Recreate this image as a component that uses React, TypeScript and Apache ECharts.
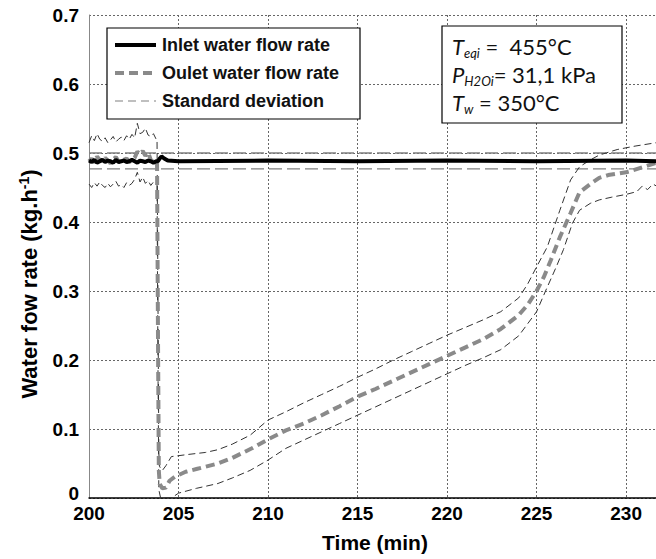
import React, { useEffect, useRef } from "react";
import * as echarts from "echarts";

// ---------- data ----------
const preTimes = [
  200.0, 200.15, 200.3, 200.45, 200.6, 200.75, 200.9, 201.05, 201.2, 201.35, 201.5, 201.65, 201.8,
  201.95, 202.1, 202.25, 202.4, 202.55, 202.7, 202.85, 203.0, 203.15, 203.3, 203.45, 203.6, 203.75,
];

const inletPre = [
  0.489, 0.487, 0.49, 0.486, 0.488, 0.49, 0.487, 0.489, 0.488, 0.486, 0.49, 0.487, 0.488, 0.489,
  0.487, 0.488, 0.49, 0.488, 0.486, 0.489, 0.488, 0.487, 0.489, 0.488, 0.486, 0.488,
];
const inletPostTimes = [203.85, 203.95, 204.05, 204.2, 204.4, 205, 210, 215, 220, 225, 230, 231.7];
const inletPost = [0.488, 0.492, 0.495, 0.492, 0.489, 0.488, 0.489, 0.488, 0.489, 0.488, 0.489, 0.488];

const outletPre = [
  0.488, 0.492, 0.486, 0.495, 0.49, 0.487, 0.493, 0.489, 0.485, 0.491, 0.494, 0.488, 0.486, 0.49,
  0.492, 0.487, 0.489, 0.493, 0.502, 0.498, 0.503, 0.496, 0.501, 0.49, 0.487, 0.489,
];
const outletPostTimes = [
  203.8, 203.85, 203.9, 203.95, 204.1, 204.3, 204.5, 204.8, 205.4, 206, 207.2, 208, 209.1, 210, 211,
  212, 213, 214, 215, 216, 217, 218, 219, 220, 221, 222, 223, 224, 224.5, 225, 225.4, 225.8, 226.3,
  226.9, 227.4, 228, 228.5, 229, 230, 231, 231.7,
];
const outletPost = [
  0.489, 0.25, 0.04, 0.02, 0.014, 0.015, 0.025, 0.031, 0.038, 0.042, 0.05, 0.058, 0.072, 0.085,
  0.098, 0.108, 0.12, 0.133, 0.147, 0.158, 0.17, 0.182, 0.194, 0.206, 0.218, 0.23, 0.245, 0.265,
  0.28, 0.3, 0.32, 0.345, 0.378, 0.413, 0.443, 0.455, 0.464, 0.468, 0.472, 0.48, 0.486,
];

const upperPre = [
  0.515, 0.525, 0.518, 0.528, 0.52, 0.517, 0.522, 0.515, 0.519, 0.524, 0.516, 0.52, 0.523, 0.518,
  0.525, 0.52, 0.527, 0.522, 0.543, 0.528, 0.53, 0.536, 0.526, 0.524, 0.528, 0.52,
];
const upperPostTimes = [
  203.8, 203.85, 203.9, 203.95, 204.1, 204.3, 204.6, 205.5, 206.5, 207.2, 208, 209, 210, 211, 212,
  213, 214, 215, 216, 217, 218, 219, 220, 221, 222, 223, 224, 224.5, 225, 225.6, 226.3, 226.9, 227.4,
  228, 228.5, 229.5, 230.5, 231.7,
];
const upperPost = [
  0.52, 0.3, 0.065, 0.045, 0.04, 0.047, 0.06, 0.063, 0.066, 0.07, 0.078, 0.091, 0.113, 0.125, 0.138,
  0.15, 0.162, 0.175, 0.187, 0.2, 0.212, 0.224, 0.236, 0.247, 0.258, 0.27, 0.29, 0.31, 0.335, 0.364,
  0.417, 0.461, 0.48, 0.49, 0.497, 0.505, 0.51, 0.515,
];

const lowerPre = [
  0.455, 0.45, 0.457, 0.452, 0.458, 0.453, 0.45, 0.456, 0.451, 0.455, 0.459, 0.452, 0.454, 0.45,
  0.457, 0.453, 0.456, 0.462, 0.472, 0.458, 0.465, 0.456, 0.46, 0.453, 0.458, 0.455,
];
const lowerPostTimes = [
  203.8, 203.85, 203.9, 204.0, 204.6, 205, 206, 207.2, 208, 209, 210, 211, 212, 213, 214, 215, 216,
  217, 218, 219, 220, 221, 222, 223, 224, 225, 225.5, 226.1, 226.5, 227, 227.4, 228, 228.5, 229.2,
  230, 230.6, 230.9, 231.2, 231.5, 231.7,
];
const lowerPost = [
  0.455, 0.2, 0.012, 0, 0, 0.007, 0.014, 0.021, 0.029, 0.04, 0.055, 0.072, 0.084, 0.096, 0.108, 0.12,
  0.132, 0.144, 0.156, 0.168, 0.18, 0.192, 0.203, 0.215, 0.235, 0.27, 0.3, 0.335, 0.36, 0.398, 0.417,
  0.427, 0.432, 0.436, 0.44, 0.444, 0.452, 0.447, 0.455, 0.452,
];

const inletStdTimes = [200, 231.7];
const inletStdUpper = [0.5, 0.5];
const inletStdLower = [0.477, 0.477];

const xTicks = [200, 205, 210, 215, 220, 225, 230];
const yTicks = [0, 0.1, 0.2, 0.3, 0.4, 0.5, 0.6, 0.7];

const legendNames = ["Inlet water flow rate", "Oulet water flow rate", "Standard deviation"];

const pairs = (t: number[], v: number[]) => t.map((x, i) => [x, v[i]]);

const FONT = "'Liberation Sans', Arial, sans-serif";

export default function App() {
  const ref = useRef<HTMLDivElement>(null);
  useEffect(() => {
    if (!ref.current) return;
    const chart = echarts.init(ref.current, undefined, { renderer: "svg" });
    const sdThin = { color: "#333", width: 1, type: [7, 4] as any };
    const inletStyle = { color: "#000", width: 4 };
    const outletStyle = { color: "#8a8a8a", width: 4, type: [9, 5] as any };
    const inletStdStyle = { color: "#808080", width: 1.3, type: [13, 5] as any };
    const annoRich = {
      it: { fontFamily: "Lato", fontSize: 22, fontStyle: "italic", lineHeight: 26, fill: "#111" },
      sub: {
        fontFamily: "Lato",
        fontSize: 13,
        fontStyle: "italic",
        lineHeight: 13,
        verticalAlign: "bottom",
        fill: "#111",
      },
      n: { fontFamily: "Lato", fontSize: 22, lineHeight: 26, fill: "#111" },
    };
    const legendRows = [45, 73, 101];
    const legendLineStyles = [
      { stroke: "#000", lineWidth: 4 },
      { stroke: "#8a8a8a", lineWidth: 4, lineDash: [9, 5] },
      { stroke: "#808080", lineWidth: 1.2, lineDash: [8, 5] },
    ];
    const legendGraphics: any[] = [];
    legendNames.forEach((name, i) => {
      legendGraphics.push({
        type: "line",
        z: 6,
        shape: { x1: 115, y1: legendRows[i], x2: 156, y2: legendRows[i] },
        style: legendLineStyles[i],
      });
      legendGraphics.push({
        type: "text",
        z: 6,
        x: 162,
        y: legendRows[i],
        style: {
          text: name,
          verticalAlign: "middle",
          fontFamily: FONT,
          fontSize: 18,
          fontWeight: "bold",
          fill: "#111",
        },
      });
    });
    chart.setOption({
      animation: false,
      grid: { left: 89, top: 15, right: 0, bottom: 61 },
      xAxis: {
        type: "value",
        min: 200,
        max: 231.67,
        interval: 5,
        axisLine: { show: true, lineStyle: { color: "#000", width: 1.5 } },
        axisTick: { show: false },
        axisLabel: {
          showMaxLabel: false,
          margin: 6,
          color: "#000",
          fontSize: 19,
          fontWeight: "bold",
          fontFamily: FONT,
          formatter: (v: number) => (xTicks.includes(Math.round(v * 100) / 100) ? String(v) : ""),
        },
        splitLine: { show: true, lineStyle: { color: "#666", width: 1, type: [2, 2] } },
      },
      yAxis: {
        type: "value",
        min: 0,
        max: 0.7,
        interval: 0.1,
        axisLine: { show: true, lineStyle: { color: "#888", width: 1 } },
        axisTick: { show: false },
        axisLabel: {
          margin: 10,
          color: "#000",
          fontSize: 19,
          fontWeight: "bold",
          fontFamily: FONT,
          formatter: (v: number) => {
            const r = Math.round(v * 10) / 10;
            if (!yTicks.includes(r)) return "";
            return r === 0 ? "{z|0}" : r.toFixed(1);
          },
          rich: {
            z: {
              color: "#000",
              fontSize: 19,
              fontWeight: "bold",
              fontFamily: FONT,
              padding: [0, 0, 10, 0],
            },
          },
        },
        splitLine: { show: true, lineStyle: { color: "#666", width: 1, type: [2, 2] } },
      },
      graphic: [
        {
          type: "rect",
          z: 5,
          shape: { x: 107, y: 28, width: 253, height: 91 },
          style: { fill: "#fff", stroke: "#000", lineWidth: 1.2 },
        },
        ...legendGraphics,
        {
          type: "rect",
          z: 5,
          shape: { x: 442, y: 26, width: 180, height: 97 },
          style: { fill: "#fff", stroke: "#000", lineWidth: 1.2 },
        },
        {
          type: "text",
          z: 6,
          x: 452,
          y: 46,
          style: { text: "{it|T}{sub|eqi}{n| =  455°C}", rich: annoRich, verticalAlign: "middle" },
        },
        {
          type: "text",
          z: 6,
          x: 452,
          y: 74,
          style: { text: "{it|P}{sub|H2Oi}{n|= 31,1 kPa}", rich: annoRich, verticalAlign: "middle" },
        },
        {
          type: "text",
          z: 6,
          x: 452,
          y: 102,
          style: { text: "{it|T}{sub|w}{n| = 350°C}", rich: annoRich, verticalAlign: "middle" },
        },
        {
          type: "text",
          z: 6,
          x: 29,
          y: 284,
          rotation: Math.PI / 2,
          style: {
            text: "{a|Water fow rate (kg.h}{s|-1}{a|)}",
            align: "center",
            verticalAlign: "middle",
            rich: {
              a: { fontFamily: FONT, fontSize: 22, fontWeight: "bold", fill: "#000", lineHeight: 24 },
              s: {
                fontFamily: FONT,
                fontSize: 14,
                fontWeight: "bold",
                fill: "#000",
                lineHeight: 14,
                verticalAlign: "top",
              },
            },
          },
        },
        {
          type: "text",
          z: 6,
          x: 375,
          y: 542,
          style: {
            text: "Time (min)",
            align: "center",
            verticalAlign: "middle",
            fontFamily: FONT,
            fontSize: 21,
            fontWeight: "bold",
            fill: "#000",
          },
        },
      ],
      series: [
        {
          name: "sd-inlet-up",
          type: "line",
          symbol: "none",
          data: pairs(inletStdTimes, inletStdUpper),
          lineStyle: inletStdStyle,
          z: 2,
        },
        {
          name: "sd-inlet-low",
          type: "line",
          symbol: "none",
          data: pairs(inletStdTimes, inletStdLower),
          lineStyle: inletStdStyle,
          z: 2,
        },
        {
          name: "sd-out-up",
          type: "line",
          symbol: "none",
          data: pairs(preTimes.concat(upperPostTimes), upperPre.concat(upperPost)),
          lineStyle: sdThin,
          z: 2,
        },
        {
          name: "sd-out-low",
          type: "line",
          symbol: "none",
          data: pairs(preTimes.concat(lowerPostTimes), lowerPre.concat(lowerPost)),
          lineStyle: sdThin,
          z: 2,
        },
        {
          name: legendNames[1],
          type: "line",
          symbol: "none",
          data: pairs(preTimes.concat(outletPostTimes), outletPre.concat(outletPost)),
          lineStyle: outletStyle,
          z: 3,
        },
        {
          name: legendNames[0],
          type: "line",
          symbol: "none",
          data: pairs(preTimes.concat(inletPostTimes), inletPre.concat(inletPost)),
          lineStyle: inletStyle,
          z: 4,
        },
      ],
    });
    return () => chart.dispose();
  }, []);
  return <div ref={ref} style={{ width: 656, height: 559, position: "absolute", left: 0, top: 0 }} />;
}
